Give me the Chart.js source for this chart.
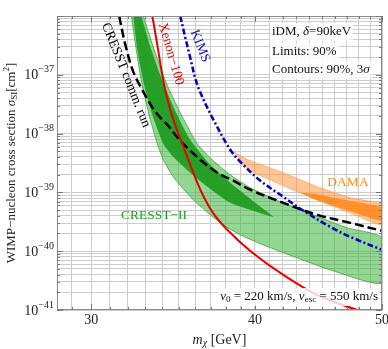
<!DOCTYPE html>
<html>
<head>
<meta charset="utf-8">
<script src="https://cdn.jsdelivr.net/npm/chart.js@4.4.1/dist/chart.umd.min.js"></script>
<style>
html, body { margin: 0; padding: 0; background: #fff; }
canvas { display: block; }
</style>
</head>
<body>
<canvas id="grafico" width="388" height="349"></canvas>
<script>
// massa em GeV, secao de choque em cm^2
const massaXenon = [33.40, 33.69, 34.05, 34.35, 34.65, 35.20, 35.70, 36.34, 37.11, 38.10, 39.67, 42.04, 44.63, 47.88, 49.16];
const sigmaXenon = [1.0e-36, 3.27e-37, 7.96e-38, 3.36e-38, 1.73e-38, 6.73e-39, 2.95e-39, 1.11e-39, 4.67e-40, 2.31e-40, 1.01e-40, 3.95e-41, 1.80e-41, 1.0e-41, 8.55e-42];

const massaKims = [35.08, 35.39, 35.70, 36.02, 36.34, 37.18, 38.30, 38.98, 40.38, 42.04, 43.32, 45.66, 47.30, 50.0];
const sigmaKims = [1.0e-36, 4.30e-37, 1.96e-37, 8.62e-38, 4.98e-38, 1.73e-38, 5.32e-39, 3.32e-39, 1.58e-39, 8.41e-40, 5.26e-40, 2.59e-40, 1.75e-40, 1.05e-40];

const massaComm = [31.51, 31.85, 32.30, 32.87, 33.45, 33.87, 34.29, 35.08, 36.34, 37.44, 38.51, 39.67, 42.04, 44.63, 47.30, 50.0];
const sigmaComm = [1.0e-36, 3.27e-37, 1.13e-37, 5.17e-38, 2.66e-38, 1.87e-38, 1.42e-38, 7.57e-39, 3.59e-39, 2.16e-39, 1.58e-39, 1.11e-39, 6.65e-40, 4.15e-40, 3.03e-40, 2.22e-40];

// CRESST-II 3 sigma (claro)
const massaC2Sup = [32.87, 33.45, 34.17, 35.08, 36.14, 37.11, 38.30, 39.67, 41.82, 44.32, 47.05, 50.0];
const sigmaC2Sup = [1.0e-36, 3.02e-37, 7.96e-38, 2.27e-38, 6.73e-39, 3.59e-39, 1.99e-39, 1.20e-39, 6.92e-40, 4.15e-40, 2.49e-40, 1.69e-40];
const massaC2Inf = [32.19, 32.47, 32.76, 33.28, 33.69, 34.05, 34.65, 35.89, 37.64, 38.98, 40.59, 43.09, 45.66, 50.0];
const sigmaC2Inf = [1.0e-36, 2.69e-37, 7.96e-38, 1.73e-38, 6.73e-39, 3.59e-39, 1.84e-39, 7.48e-40, 3.03e-40, 1.90e-40, 1.28e-40, 7.69e-41, 4.80e-41, 2.88e-41];

// CRESST-II 90% (escuro)
const massaC2EscSup = [32.76, 33.34, 33.99, 34.83, 35.70, 36.98, 38.30, 40.02, 41.31];
const sigmaC2EscSup = [1.0e-36, 2.69e-37, 7.96e-38, 2.27e-38, 7.87e-39, 2.95e-39, 1.46e-39, 6.65e-40, 3.84e-40];
const massaC2EscInf = [32.30, 32.53, 32.87, 33.40, 34.05, 34.65, 35.70, 36.79, 38.30, 39.67, 40.73];
const sigmaC2EscInf = [1.0e-36, 2.69e-37, 7.96e-38, 2.10e-38, 6.73e-39, 4.04e-39, 2.16e-39, 1.25e-39, 6.65e-40, 5.05e-40, 4.15e-40];

// DAMA
const massaDamaSup = [38.51, 39.67, 42.04, 44.63, 47.30, 50.0];
const sigmaDamaSup = [4.92e-39, 3.45e-39, 2.16e-39, 1.25e-39, 8.09e-40, 6.15e-40];
const massaDamaInf = [39.12, 39.67, 42.04, 44.63, 47.30, 50.0];
const sigmaDamaInf = [3.19e-39, 2.33e-39, 1.30e-39, 7.48e-40, 4.49e-40, 2.81e-40];
const massaDamaEscSup = [43.32, 44.48, 45.90, 47.71, 50.0];
const sigmaDamaEscSup = [9.84e-40, 9.47e-40, 8.09e-40, 6.92e-40, 5.47e-40];
const massaDamaEscInf = [44.48, 45.90, 47.71, 50.0];
const sigmaDamaEscInf = [7.48e-40, 5.91e-40, 4.49e-40, 3.28e-40];

// ticks
const ticksMassa = [29, 30, 31, 32, 33, 34, 35, 36, 37, 38, 39, 40, 41, 42, 43, 44, 45, 46, 47, 48, 49, 50];
const rotulosMassa = [30, 40, 50];
const expoentes = [-41, -40, -39, -38, -37];

const SERIF = '"Liberation Serif", "DejaVu Serif", serif';
function fonte(tam, estilo) {
    return (estilo ? estilo + ' ' : '') + tam + 'px ' + SERIF;
}

function pontos(xs, ys) {
    return xs.map((x, i) => ({ x: x, y: ys[i] }));
}

function contorno(xs1, ys1, xs2, ys2) {
    return pontos(xs1, ys1).concat(pontos(xs2, ys2).reverse());
}

function ticksSigma() {
    const lista = [];
    expoentes.forEach(e => {
        for (let m = 1; m <= 9; m++) lista.push(Number(m + 'e' + e));
    });
    lista.push(1e-36);
    return lista;
}

function escrever(ctx, partes, x, y, alinhar) {
    let largura = 0;
    partes.forEach(p => { ctx.font = p.f; largura += ctx.measureText(p.t).width; });
    let cx = alinhar === 'right' ? x - largura : alinhar === 'center' ? x - largura / 2 : x;
    ctx.textAlign = 'left';
    ctx.textBaseline = 'middle';
    partes.forEach(p => {
        ctx.font = p.f;
        ctx.fillText(p.t, cx, y + (p.dy || 0));
        cx += ctx.measureText(p.t).width;
    });
    return largura;
}

function comFundo(ctx, partes, x, y, alinhar) {
    let largura = 0;
    partes.forEach(p => { ctx.font = p.f; largura += ctx.measureText(p.t).width; });
    const x0 = alinhar === 'right' ? x - largura : x;
    ctx.fillStyle = 'rgba(255,255,255,0.8)';
    ctx.fillRect(x0 - 2, y - 9, largura + 4, 18);
    ctx.fillStyle = '#111';
    escrever(ctx, partes, x, y, alinhar);
}

function girado(ctx, texto, cor, tam, x, y, angulo) {
    ctx.save();
    ctx.translate(x, y);
    ctx.rotate(angulo * Math.PI / 180);
    ctx.fillStyle = cor;
    ctx.font = fonte(tam);
    ctx.textAlign = 'center';
    ctx.textBaseline = 'middle';
    ctx.fillText(texto, 0, 0);
    ctx.restore();
}

const rotulos = {
    id: 'rotulos',
    afterDatasetsDraw(chart) {
        const { ctx, chartArea: a, scales: { x, y } } = chart;
        ctx.save();

        // moldura e marcas internas
        ctx.strokeStyle = '#8a8a8a';
        ctx.lineWidth = 1;
        ctx.strokeRect(a.left + 0.5, a.top + 0.5, a.right - a.left - 1, a.bottom - a.top - 1);
        ctx.strokeStyle = '#777';
        ctx.beginPath();
        ticksMassa.forEach(v => {
            const px = Math.round(x.getPixelForValue(v)) + 0.5;
            const t = rotulosMassa.includes(v) ? 6 : 3;
            ctx.moveTo(px, a.bottom); ctx.lineTo(px, a.bottom - t);
            ctx.moveTo(px, a.top); ctx.lineTo(px, a.top + t);
        });
        ticksSigma().forEach(v => {
            const py = Math.round(y.getPixelForValue(v)) + 0.5;
            const t = Math.abs(Math.log10(v) - Math.round(Math.log10(v))) < 1e-6 ? 6 : 3;
            ctx.moveTo(a.left, py); ctx.lineTo(a.left + t, py);
            ctx.moveTo(a.right, py); ctx.lineTo(a.right - t, py);
        });
        ctx.stroke();

        // rotulos das curvas
        girado(ctx, 'CRESST comm. run', '#000', 13.5, 126, 75, 68);
        girado(ctx, 'Xenon\u2212100', '#e00000', 13.5, 171, 54, 74);
        girado(ctx, 'KIMS', '#1010b0', 13.5, 200, 46, 68);
        ctx.fillStyle = '#ff8c10';
        escrever(ctx, [{ t: 'DAMA', f: fonte(13.5) }], 348, 182, 'center');
        ctx.fillStyle = '#1ea01e';
        escrever(ctx, [{ t: 'CRESST\u2212II', f: fonte(13.5) }], 154, 215, 'center');

        // caixas de texto
        comFundo(ctx, [{ t: 'iDM, ', f: fonte(13) }, { t: '\u03b4', f: fonte(13, 'italic') }, { t: '=90keV', f: fonte(13) }], 272, 32);
        comFundo(ctx, [{ t: 'Limits: 90%', f: fonte(13) }], 272, 52);
        comFundo(ctx, [{ t: 'Contours: 90%, 3', f: fonte(13) }, { t: '\u03c3', f: fonte(13, 'italic') }], 272, 70);
        comFundo(ctx, [
            { t: 'v', f: fonte(13, 'italic') }, { t: '0', f: fonte(9), dy: 3 },
            { t: ' = 220 km/s, ', f: fonte(13) },
            { t: 'v', f: fonte(13, 'italic') }, { t: 'esc', f: fonte(9), dy: 3 },
            { t: ' = 550 km/s', f: fonte(13) }
        ], 378, 297, 'right');

        // rotulos dos eixos
        ctx.fillStyle = '#222';
        rotulosMassa.forEach(v => {
            escrever(ctx, [{ t: String(v), f: fonte(14) }], x.getPixelForValue(v), 320, 'center');
        });
        expoentes.forEach(e => {
            const py = y.getPixelForValue(Number('1e' + e));
            escrever(ctx, [{ t: '10', f: fonte(14) }, { t: '\u2212' + Math.abs(e), f: fonte(10), dy: -6 }], 54, py + 1, 'right');
        });
        escrever(ctx, [
            { t: 'm', f: fonte(14, 'italic') }, { t: '\u03c7', f: fonte(10, 'italic'), dy: 3 },
            { t: ' [GeV]', f: fonte(14) }
        ], (a.left + a.right) / 2, 340, 'center');

        ctx.save();
        ctx.translate(12, (a.top + a.bottom) / 2);
        ctx.rotate(-Math.PI / 2);
        escrever(ctx, [
            { t: 'WIMP\u2212nucleon cross section ', f: fonte(13) },
            { t: '\u03c3', f: fonte(13, 'italic') }, { t: 'SI', f: fonte(9), dy: 3 },
            { t: '[cm', f: fonte(13) }, { t: '2', f: fonte(9), dy: -5 }, { t: ']', f: fonte(13) }
        ], 0, 0, 'center');
        ctx.restore();

        ctx.restore();
    }
};

const ctx = document.getElementById('grafico').getContext('2d');

new Chart(ctx, {
    type: 'line',
    data: {
        datasets: [
            {
                label: 'Xenon-100',
                data: pontos(massaXenon, sigmaXenon),
                borderColor: 'rgb(235,0,0)',
                borderWidth: 2,
                tension: 0.35,
                fill: false
            },
            {
                label: 'KIMS',
                data: pontos(massaKims, sigmaKims),
                borderColor: 'rgb(0,0,190)',
                borderWidth: 2.5,
                borderDash: [6, 2.5, 2, 2.5],
                tension: 0.35,
                fill: false
            },
            {
                label: 'CRESST comm. run',
                data: pontos(massaComm, sigmaComm),
                borderColor: '#000',
                borderWidth: 2.5,
                borderDash: [9, 4],
                tension: 0.35,
                fill: false
            },
            {
                label: 'DAMA 90%',
                data: contorno(massaDamaEscSup, sigmaDamaEscSup, massaDamaEscInf, sigmaDamaEscInf),
                borderWidth: 0,
                backgroundColor: 'rgba(255,135,25,0.85)',
                tension: 0.2,
                fill: 'shape'
            },
            {
                label: 'DAMA 3sigma',
                data: contorno(massaDamaSup, sigmaDamaSup, massaDamaInf, sigmaDamaInf),
                borderWidth: 0.8,
                borderColor: 'rgba(255,160,80,0.9)',
                backgroundColor: 'rgba(255,150,60,0.55)',
                tension: 0.2,
                fill: 'shape'
            },
            {
                label: 'CRESST-II 90%',
                data: contorno(massaC2EscSup, sigmaC2EscSup, massaC2EscInf, sigmaC2EscInf),
                borderWidth: 0,
                backgroundColor: 'rgba(20,150,20,0.85)',
                tension: 0.2,
                fill: 'shape'
            },
            {
                label: 'CRESST-II 3sigma',
                data: contorno(massaC2Sup, sigmaC2Sup, massaC2Inf, sigmaC2Inf),
                borderWidth: 0.8,
                borderColor: 'rgba(50,165,50,0.95)',
                backgroundColor: 'rgba(60,180,60,0.55)',
                tension: 0.2,
                fill: 'shape'
            }
        ]
    },
    options: {
        responsive: false,
        animation: false,
        events: [],
        layout: { padding: { top: 16, right: 6, left: 0, bottom: 0 } },
        elements: { point: { radius: 0 } },
        scales: {
            x: {
                type: 'logarithmic',
                min: 28.25,
                max: 50,
                afterBuildTicks: axis => { axis.ticks = ticksMassa.map(v => ({ value: v })); },
                afterFit: scale => { scale.height = 39; },
                ticks: { display: false },
                grid: { color: '#cccccc', lineWidth: 1, drawTicks: false },
                border: { display: false }
            },
            y: {
                type: 'logarithmic',
                min: 1e-41,
                max: 1e-36,
                afterBuildTicks: axis => { axis.ticks = ticksSigma().map(v => ({ value: v })); },
                afterFit: scale => { scale.width = 57; },
                ticks: { display: false },
                grid: { color: '#cccccc', lineWidth: 1, drawTicks: false },
                border: { display: false }
            }
        },
        plugins: {
            legend: { display: false },
            tooltip: { enabled: false }
        }
    },
    plugins: [rotulos]
});
</script>
</body>
</html>
